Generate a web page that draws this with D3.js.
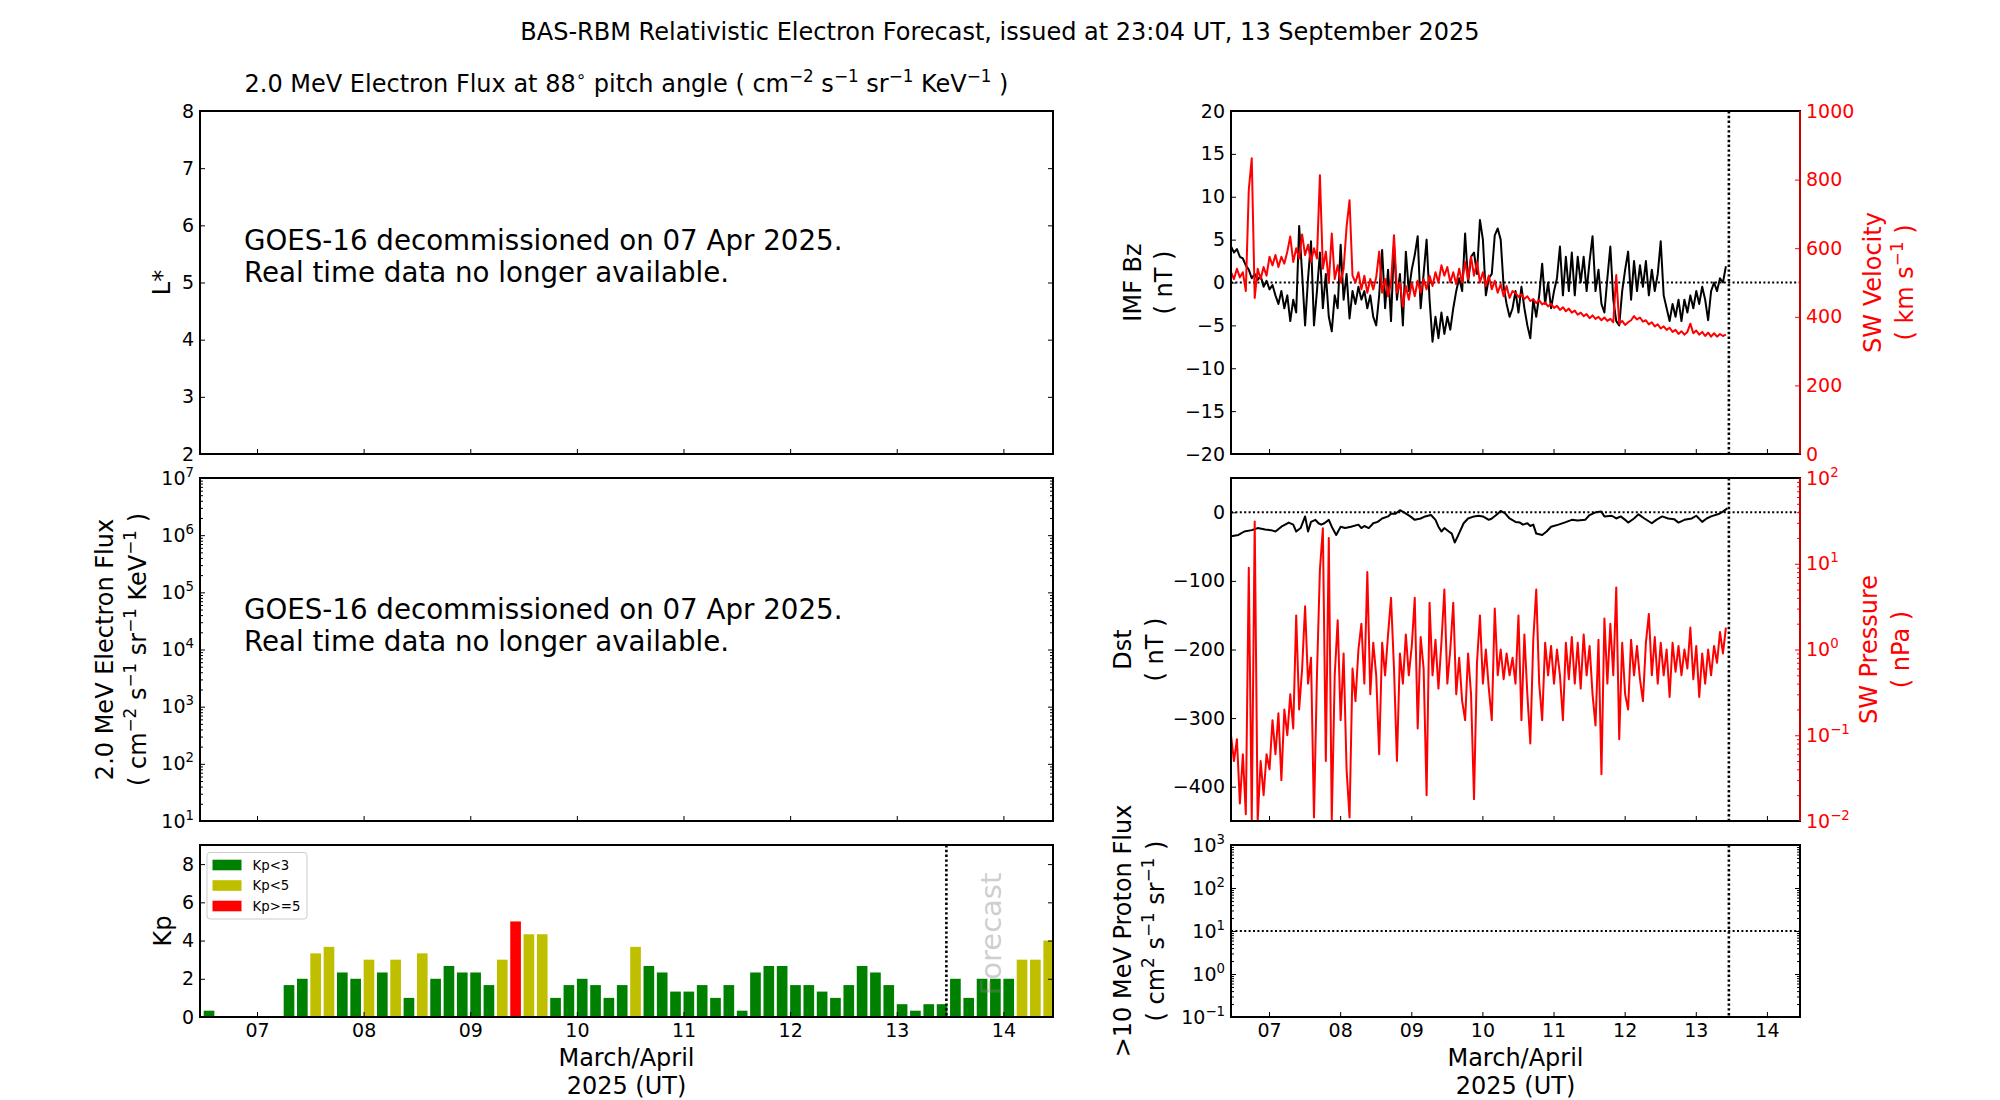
<!DOCTYPE html>
<html>
<head>
<meta charset="utf-8">
<script src="https://cdn.jsdelivr.net/npm/d3@7"></script>
<style>
  body { margin: 0; background: #fff; }
  text { font-family: "DejaVu Sans", sans-serif; }
</style>
</head>
<body>
<div id="chart"></div>
<script>
// ---- data ----
// Kp, 3-hour bins starting 06 Apr 12:00 UT
var kpValues = [0.33,0,0,0,0,0,1.67,2,3.33,3.67,2.33,2,3,2.33,3,1,3.33,2,2.67,2.33,
  2.33,1.67,3,5,4.33,4.33,1,1.67,2,1.67,1,1.67,3.67,2.67,2.33,1.33,1.33,1.67,1,1.67,
  0.33,2.33,2.67,2.67,1.67,1.67,1.33,1,1.67,2.67,2.33,1.67,0.67,0.33,0.67,0.67,
  2,1,2,2,2,3,3,4];
var kpLegend = ["Kp<3", "Kp<5", "Kp>=5"];
var kpColors = ["#008000", "#bfbf00", "#ff0000"];

// hourly samples from the left edge of the plot (now - 7 days)
var bzValues = [4.2,3.5,3.9,3.0,2.8,2.0,1.5,0.5,1.0,0.3,
  0.8,-0.5,0.2,-0.8,-0.3,-1.5,-2.5,-1.0,-3.0,-1.5,
  -4.5,-2.0,-3.5,6.6,1.0,-5.0,0.5,4.8,-5.0,-1.0,
  3.5,-3.0,1.0,-4.0,-5.7,-1.5,-3.0,4.4,-2.0,1.0,
  -4.2,-1.0,-2.5,-0.5,-2.0,-1.0,-3.0,-1.5,-4.0,-5.0,
  -1.5,3.8,-3.0,1.5,-4.5,4.4,-2.0,1.0,-5.0,3.6,
  -1.0,1.5,3.2,5.4,-3.0,1.0,5.0,-2.0,-6.9,-4.0,
  -6.5,-3.5,-6.0,-4.0,-5.5,-3.0,-1.0,0.5,-1.0,5.7,
  0.0,3.0,3.5,1.0,7.3,5.0,-1.5,0.5,1.0,5.5,
  6.3,5.0,-0.5,-2.5,-4.0,-3.0,-1.0,-3.5,-0.5,-3.0,
  -5.0,-6.5,-2.0,-4.0,-1.5,2.2,-2.5,0.0,-3.0,-1.0,
  0.5,4.2,-1.5,3.0,-1.0,3.5,-1.5,3.0,0.0,3.0,
  -1.0,2.5,5.4,-1.0,1.5,-2.5,-3.5,0.5,4.2,-2.0,
  -4.5,-5.0,-1.0,1.5,3.6,-2.0,2.5,-1.0,2.0,-0.5,
  2.5,-1.5,1.5,-1.0,1.0,4.8,-1.5,-3.0,-4.5,-2.5,
  -4.0,-2.0,-4.5,-2.0,-3.5,-1.5,-3.0,-1.0,-2.5,-0.5,
  -2.0,-4.4,-1.0,0.0,-1.0,0.5,0.0,1.9];

var swVelocity = [530,510,540,515,530,475,770,862,455,540,
  510,545,520,575,550,580,545,575,555,590,
  634,560,600,570,640,580,610,560,600,570,
  813,540,590,500,643,510,550,500,540,663,
  740,520,500,530,480,520,470,510,480,515,
  590,470,510,460,500,638,470,500,430,490,
  450,500,460,505,470,510,480,520,490,530,
  500,550,520,545,500,530,495,540,500,560,
  510,575,520,560,500,530,490,520,480,505,
  470,495,460,490,455,475,470,458,466,452,
  460,446,452,440,448,436,442,430,438,426,
  432,420,428,416,424,412,418,406,412,402,
  408,396,404,394,400,390,398,388,394,384,
  522,380,388,376,384,390,402,392,398,386,
  390,378,384,372,378,366,372,362,368,356,
  362,350,358,348,356,380,352,360,348,356,
  344,354,342,352,342,350,344,348];

var swPressure = [0.1,0.05,0.09,0.016,0.06,0.012,9,0.01,31,0.01,
  0.05,0.02,0.06,0.04,0.15,0.06,0.18,0.03,0.2,0.1,
  0.3,0.12,2.5,0.2,0.6,3.2,0.4,0.8,0.011,0.5,
  8.5,26,0.05,20,0.01,0.5,2.2,0.15,0.9,0.04,
  0.011,0.6,0.25,1.0,2.0,0.4,8,0.3,1.2,0.5,
  0.06,1.2,0.5,1.5,4,0.6,0.05,0.9,0.4,1.5,
  0.5,1.1,4,0.12,1.4,0.6,0.02,3.5,0.5,1.3,
  0.35,1.2,5,0.4,1.0,3.5,0.3,0.8,0.25,0.15,
  0.9,0.3,0.018,0.7,2.5,0.4,1.0,0.35,0.15,3,
  0.5,1.0,0.45,0.9,0.5,0.8,0.4,2.5,0.15,1.5,
  0.3,0.08,1.3,5,0.4,0.15,1.2,0.5,1.1,0.4,
  1.0,0.5,0.15,1.2,0.45,1.4,0.4,1.2,0.35,1.5,
  0.5,1.1,0.3,0.13,1.3,0.035,2.3,0.4,2,0.5,
  5.3,0.09,1.2,0.3,0.2,1.3,0.5,1.1,0.45,0.25,
  1.2,2.6,0.5,1.4,0.4,1.2,0.5,1.0,0.28,1.2,
  0.55,1.1,0.5,1.0,0.6,1.8,0.45,1.1,0.28,0.9,
  0.4,1.0,0.5,1.1,0.7,1.6,0.9,1.8];

// Dst: hours after the left edge, and values (nT)
var dstHours = [0,2.5,4.5,7,9,11.5,13.5,15,17,19.5,21,22,23.5,25,26,27,28.5,29.5,30.5,31.5,
  33,34,35.5,37,38.5,40.5,43,44,45,46.5,48,49.5,51,53,54,55.5,57,58.5,60.5,62,
  64,65.5,67.5,69,70,71,72,73.5,74.5,75.5,76.5,78.5,80,82,83.5,85,87,88,89.5,91,
  92.5,94,96,97.5,98.5,100,101,102,103,105,106.5,108,110.5,112.5,115,117,119.5,121,123,125,
  126,128.5,130,131.5,133,134,136,137.5,139.5,142,143.5,145.5,147.5,149.5,151,153,155.5,157,159,160.5,
  162,164.5,166,167.5];
var dstValues = [-35,-33,-28,-26,-23,-25,-26,-28,-21,-15,-18,-28,-23,-6,-28,-14,-11,-16,-18,-16,
  -11,-21,-33,-21,-23,-21,-18,-23,-20,-23,-16,-14,-9,-6,-2,-2,3,-0.5,-6,-11,
  -9,-6,-4,-11,-21,-28,-23,-28,-31,-44,-35,-16,-9,-6,-5,-6,-11,-9,-4,2,
  -1.5,-9,-14,-15,-18,-16,-20,-18,-31,-33,-28,-21,-18,-15,-11,-12,-11,-4,0,1,
  -6,-5,-9,-6,-11,-15,-9,-3,-9,-16,-11,-6,-9,-10,-15,-11,-9,-5,-14,-9,
  -6,-2.5,1,6];

var bzTicks = [-20,-15,-10,-5,0,5,10,15,20];
var velTicks = [0,200,400,600,800,1000];
var dstTicks = [-400,-300,-200,-100,0];
var lstarTicks = [2,3,4,5,6,7,8];
var kpTicks = [0,2,4,6,8];

// ---- layout ----
var TICK_FONT = 19;
var svg = d3.select("#chart").append("svg").attr("width", 2000).attr("height", 1100);

var now = new Date(Date.UTC(2025, 3, 13, 11, 10));
var t0 = d3.utcDay.offset(now, -7), t1 = d3.utcDay.offset(now, 1);
var kpStart = new Date(Date.UTC(2025, 3, 6, 12));
function hourAfter(base, h) { return new Date(+base + h * 3600e3); }

var L = [200, 1053], R = [1231, 1800];
var rows = [[111, 454], [478, 821], [845, 1017]];

var xL = d3.scaleUtc().domain([t0, t1]).range(L);
var xR = d3.scaleUtc().domain([t0, t1]).range(R);

function rich(t, str) {
  var parts = str.split(/(\^\{[^}]*\})/).filter(function(p) { return p.length; });
  var up = false;
  parts.forEach(function(p) {
    if (p.indexOf("^{") === 0) {
      t.append("tspan").attr("dy", "-0.6em").attr("font-size", "70%").text(p.slice(2, -1));
      up = true;
    } else {
      var s = t.append("tspan").text(p);
      if (up) { s.attr("dy", "0.42em"); up = false; }
    }
  });
}

function frame(xr, yr) {
  svg.append("rect").attr("x", xr[0]).attr("y", yr[0])
    .attr("width", xr[1] - xr[0]).attr("height", yr[1] - yr[0])
    .attr("fill", "none").attr("stroke", "#000").attr("stroke-width", 2);
}
function clip(id, xr, yr) {
  svg.append("clipPath").attr("id", id).append("rect")
    .attr("x", xr[0]).attr("y", yr[0]).attr("width", xr[1] - xr[0]).attr("height", yr[1] - yr[0]);
}
function axis(gen, tx, ty, color) {
  var g = svg.append("g").attr("transform", "translate(" + tx + "," + ty + ")").call(gen);
  g.select(".domain").remove();
  g.attr("font-family", null).attr("font-size", TICK_FONT);
  g.selectAll(".tick line").attr("stroke", color).attr("stroke-width", 1);
  g.selectAll(".tick text").attr("fill", color);
  return g;
}
function sciLabels(g) {
  g.selectAll(".tick text").each(function(d) {
    var t = d3.select(this).text(null);
    rich(t, "10^{" + String(Math.round(Math.log10(d))).replace("-", "\u2212") + "}");
  });
}
function decades(lo, hi) { return d3.range(lo, hi + 1).map(function(e) { return Math.pow(10, e); }); }
function minors(lo, hi) {
  var v = [];
  for (var e = lo; e < hi; e++) for (var m = 2; m < 10; m++) v.push(m * Math.pow(10, e));
  return v;
}
function minus(d) { return String(d).replace("-", "\u2212"); }
function vlabel(x, y, str, color) {
  var t = svg.append("text").attr("transform", "translate(" + x + "," + y + ") rotate(-90)")
    .attr("text-anchor", "middle").attr("dy", "0.35em").attr("font-size", 24).attr("fill", color || "#000");
  rich(t, str);
}
function hline(xr, y, color) {
  svg.append("line").attr("x1", xr[0]).attr("x2", xr[1]).attr("y1", y).attr("y2", y)
    .attr("stroke", color || "#000").attr("stroke-width", 2).attr("stroke-dasharray", "2,2.4");
}
function nowLine(x, yr) {
  svg.append("line").attr("x1", x(now)).attr("x2", x(now)).attr("y1", yr[0]).attr("y2", yr[1])
    .attr("stroke", "#000").attr("stroke-width", 2.6).attr("stroke-dasharray", "2.4,2.4");
}
function xTicks(x, yr, labels) {
  var gen = d3.axisBottom(x).ticks(d3.utcDay.every(1)).tickSizeInner(-5).tickSizeOuter(0).tickPadding(7)
    .tickFormat(labels ? d3.utcFormat("%d") : "");
  axis(gen, 0, yr[1], "#000");
}
function yPair(scale, xr, values, fmt, minorValues) {
  var gl = axis(d3.axisLeft(scale).tickValues(values).tickSizeInner(-5).tickSizeOuter(0).tickPadding(6)
    .tickFormat(fmt === "sci" ? "" : minus), xr[0], 0, "#000");
  if (fmt === "sci") sciLabels(gl);
  axis(d3.axisRight(scale).tickValues(values).tickSizeInner(-5).tickSizeOuter(0).tickFormat(""), xr[1], 0, "#000");
  if (minorValues) {
    axis(d3.axisLeft(scale).tickValues(minorValues).tickSizeInner(-3).tickSizeOuter(0).tickFormat(""), xr[0], 0, "#000");
    axis(d3.axisRight(scale).tickValues(minorValues).tickSizeInner(-3).tickSizeOuter(0).tickFormat(""), xr[1], 0, "#000");
  }
}
function trace(g, values, xOf, y, color) {
  g.append("path").datum(values).attr("fill", "none").attr("stroke", color).attr("stroke-width", 2)
    .attr("stroke-linejoin", "round")
    .attr("d", d3.line().x(function(d, i) { return xOf(i); }).y(function(d) { return y(d); }));
}

// ---- titles ----
svg.append("text").attr("x", 1000).attr("y", 32).attr("dy", "0.35em").attr("text-anchor", "middle")
  .attr("font-size", 24).text("BAS-RBM Relativistic Electron Forecast, issued at 23:04 UT, 13 September 2025");
var pt = svg.append("text").attr("x", (L[0] + L[1]) / 2).attr("y", 84).attr("dy", "0.35em")
  .attr("text-anchor", "middle").attr("font-size", 24);
rich(pt, "2.0 MeV Electron Flux at 88^{\u2218}  pitch angle ( cm^{\u22122} s^{\u22121} sr^{\u22121} KeV^{\u22121} )");

// ---- L* panel ----
var yLs = d3.scaleLinear().domain([2, 8]).range([rows[0][1], rows[0][0]]);
yPair(yLs, L, lstarTicks);
xTicks(xL, rows[0], false);
frame(L, rows[0]);
vlabel(162, 282.5, "L*");

// ---- electron flux panel ----
var yFlux = d3.scaleLog().domain([1e1, 1e7]).range([rows[1][1], rows[1][0]]);
yPair(yFlux, L, decades(1, 7), "sci", minors(1, 7));
xTicks(xL, rows[1], false);
frame(L, rows[1]);
vlabel(105, 649.5, "2.0 MeV Electron Flux");
vlabel(138, 649.5, "( cm^{\u22122} s^{\u22121} sr^{\u22121} KeV^{\u22121} )");

[[rows[0], 240, 272], [rows[1], 609, 641]].forEach(function(r) {
  svg.append("text").attr("x", 244).attr("y", r[1]).attr("dy", "0.35em").attr("font-size", 27.7)
    .text("GOES-16 decommissioned on 07 Apr 2025.");
  svg.append("text").attr("x", 244).attr("y", r[2]).attr("dy", "0.35em").attr("font-size", 27.7)
    .text("Real time data no longer available.");
});

// ---- Kp panel ----
var yKp = d3.scaleLinear().domain([0, 9]).range([rows[2][1], rows[2][0]]);
clip("clipKp", L, rows[2]);
function kpColor(v) { return v < 3 ? kpColors[0] : (v < 5 ? kpColors[1] : kpColors[2]); }
svg.append("g").attr("clip-path", "url(#clipKp)").selectAll("rect")
  .data(kpValues).enter().append("rect")
    .attr("x", function(d, i) { return xL(hourAfter(kpStart, 3 * i)); })
    .attr("width", function(d, i) { return xL(hourAfter(kpStart, 3 * i + 2.4)) - xL(hourAfter(kpStart, 3 * i)); })
    .attr("y", function(d) { return yKp(d); })
    .attr("height", function(d) { return yKp(0) - yKp(d); })
    .attr("fill", kpColor);
nowLine(xL, rows[2]);
svg.append("text").attr("transform", "translate(1000.5,934) rotate(-90)").attr("text-anchor", "middle")
  .attr("font-size", 29).attr("fill", "gray").attr("fill-opacity", 0.4).text("Forecast");
yPair(yKp, L, kpTicks);
xTicks(xL, rows[2], true);
frame(L, rows[2]);
vlabel(163, 931, "Kp");

var leg = svg.append("g");
leg.append("rect").attr("x", 207).attr("y", 852.5).attr("width", 100).attr("height", 66.5).attr("rx", 3)
  .attr("fill", "#fff").attr("fill-opacity", 0.8).attr("stroke", "#ccc").attr("stroke-width", 1);
kpLegend.forEach(function(lab, i) {
  var cy = 865 + i * 20.5;
  leg.append("rect").attr("x", 212.5).attr("y", cy - 5.3).attr("width", 29).attr("height", 10.6).attr("fill", kpColors[i]);
  leg.append("text").attr("x", 252.5).attr("y", cy).attr("dy", "0.35em").attr("font-size", 13.3).text(lab);
});

// ---- IMF Bz / SW velocity panel ----
var yBz = d3.scaleLinear().domain([-20, 20]).range([rows[0][1], rows[0][0]]);
var yV = d3.scaleLinear().domain([0, 1000]).range([rows[0][1], rows[0][0]]);
var hourX = function(i) { return xR(hourAfter(t0, i)); };
clip("clipR0", R, rows[0]);
hline(R, yBz(0));
var g0 = svg.append("g").attr("clip-path", "url(#clipR0)");
trace(g0, bzValues, hourX, yBz, "#000");
trace(g0, swVelocity, hourX, yV, "#ff0000");
nowLine(xR, rows[0]);
axis(d3.axisLeft(yBz).tickValues(bzTicks).tickSizeInner(-5).tickSizeOuter(0).tickPadding(6)
  .tickFormat(minus), R[0], 0, "#000");
axis(d3.axisRight(yV).tickValues(velTicks).tickSizeInner(-5).tickSizeOuter(0).tickPadding(6)
  .tickFormat(d3.format("d")), R[1], 0, "#ff0000");
xTicks(xR, rows[0], false);
frame(R, rows[0]);
svg.append("line").attr("x1", R[1]).attr("x2", R[1]).attr("y1", rows[0][0]).attr("y2", rows[0][1])
  .attr("stroke", "#ff0000").attr("stroke-width", 1.6);
vlabel(1133, 282.5, "IMF Bz");
vlabel(1164, 282.5, "( nT )");
vlabel(1873, 282.5, "SW Velocity", "#ff0000");
vlabel(1905, 282.5, "( km s^{\u22121} )", "#ff0000");

// ---- Dst / SW pressure panel ----
var yDst = d3.scaleLinear().domain([-450, 50]).range([rows[1][1], rows[1][0]]);
var yP = d3.scaleLog().domain([1e-2, 1e2]).range([rows[1][1], rows[1][0]]);
clip("clipR1", R, rows[1]);
hline(R, yDst(0));
var g1 = svg.append("g").attr("clip-path", "url(#clipR1)");
trace(g1, dstValues, function(i) { return xR(hourAfter(t0, dstHours[i])); }, yDst, "#000");
trace(g1, swPressure, hourX, yP, "#ff0000");
nowLine(xR, rows[1]);
axis(d3.axisLeft(yDst).tickValues(dstTicks).tickSizeInner(-5).tickSizeOuter(0).tickPadding(6)
  .tickFormat(minus), R[0], 0, "#000");
var gp = axis(d3.axisRight(yP).tickValues(decades(-2, 2)).tickSizeInner(-5).tickSizeOuter(0).tickPadding(6).tickFormat(""),
  R[1], 0, "#ff0000");
sciLabels(gp);
axis(d3.axisRight(yP).tickValues(minors(-2, 2)).tickSizeInner(-3).tickSizeOuter(0).tickFormat(""), R[1], 0, "#ff0000");
xTicks(xR, rows[1], false);
frame(R, rows[1]);
svg.append("line").attr("x1", R[1]).attr("x2", R[1]).attr("y1", rows[1][0]).attr("y2", rows[1][1])
  .attr("stroke", "#ff0000").attr("stroke-width", 1.6);
vlabel(1123, 649.5, "Dst");
vlabel(1155, 649.5, "( nT )");
vlabel(1869, 649.5, "SW Pressure", "#ff0000");
vlabel(1901, 649.5, "( nPa )", "#ff0000");

// ---- proton flux panel ----
var yPr = d3.scaleLog().domain([1e-1, 1e3]).range([rows[2][1], rows[2][0]]);
hline(R, yPr(10));
nowLine(xR, rows[2]);
yPair(yPr, R, decades(-1, 3), "sci", minors(-1, 3));
xTicks(xR, rows[2], true);
frame(R, rows[2]);
vlabel(1123, 931, ">10 MeV Proton Flux");
vlabel(1156, 931, "( cm^{2} s^{\u22121} sr^{\u22121} )");

// ---- x labels ----
[L, R].forEach(function(xr) {
  var cx = (xr[0] + xr[1]) / 2;
  svg.append("text").attr("x", cx).attr("y", 1058).attr("dy", "0.35em").attr("text-anchor", "middle")
    .attr("font-size", 24).text("March/April");
  svg.append("text").attr("x", cx).attr("y", 1086).attr("dy", "0.35em").attr("text-anchor", "middle")
    .attr("font-size", 24).text("2025 (UT)");
});
</script>
</body>
</html>
